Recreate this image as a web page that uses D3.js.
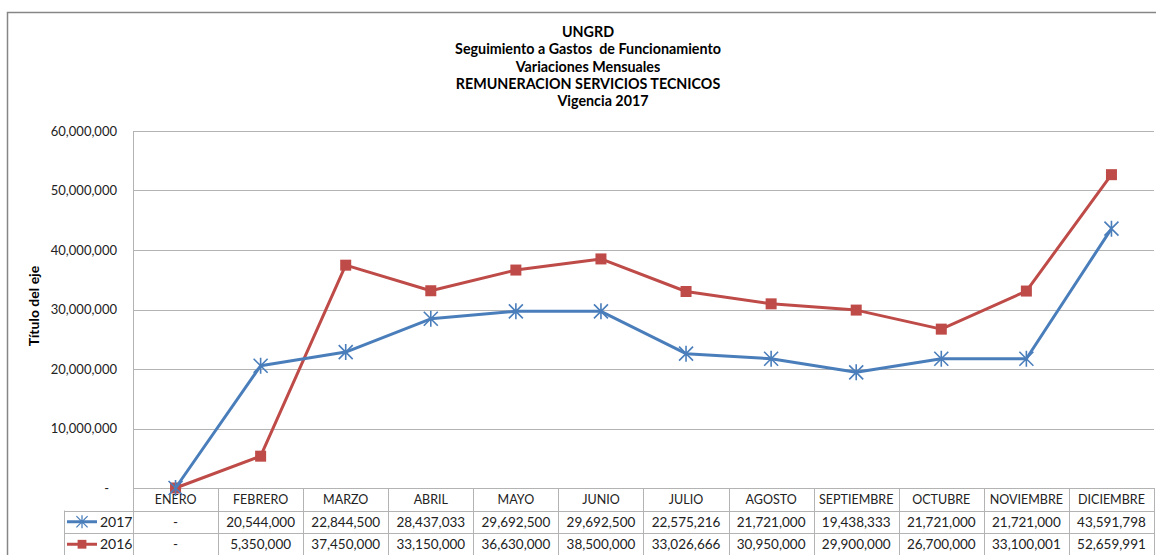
<!DOCTYPE html>
<html>
<head>
<meta charset="utf-8">
<script src="https://cdnjs.cloudflare.com/ajax/libs/d3/7.8.5/d3.min.js"></script>
<style>
  body { margin: 0; background: #fff; }
  svg { display: block; font-family: Lato, "Open Sans", sans-serif; }
</style>
</head>
<body>
<div id="chart"></div>
<script>
var months = ["ENERO", "FEBRERO", "MARZO", "ABRIL", "MAYO", "JUNIO", "JULIO", "AGOSTO", "SEPTIEMBRE", "OCTUBRE", "NOVIEMBRE", "DICIEMBRE"];
var values2017 = [0, 20544000, 22844500, 28437033, 29692500, 29692500, 22575216, 21721000, 19438333, 21721000, 21721000, 43591798];
var values2016 = [0, 5350000, 37450000, 33150000, 36630000, 38500000, 33026666, 30950000, 29900000, 26700000, 33100001, 52659991];
var yTicks = [0, 10000000, 20000000, 30000000, 40000000, 50000000, 60000000];
var titleLines = ["UNGRD", "Seguimiento a Gastos  de Funcionamiento", "Variaciones Mensuales", "REMUNERACION SERVICIOS TECNICOS", "Vigencia 2017"];

var series = [
  {name: "2017", values: values2017, color: "#4A7EBB", marker: "star"},
  {name: "2016", values: values2016, color: "#BE4B48", marker: "square"}
];

var W = 1156, H = 555;
var margin = {top: 131, right: 2, bottom: 67, left: 133};
var width = W - margin.left - margin.right,
    height = H - margin.top - margin.bottom;

var svg = d3.select("#chart").append("svg").attr("width", W).attr("height", H);

// outer chart border
svg.append("rect")
  .attr("x", 7.5).attr("y", 12.5)
  .attr("width", W).attr("height", H)
  .attr("fill", "none").attr("stroke", "#868686").attr("stroke-width", 1.5);

// title
svg.append("g").selectAll("text")
  .data(titleLines)
  .enter().append("text")
  .attr("x", function(d, i){ return i === 4 ? 603 : 588; })
  .attr("y", function(d, i){ return 37 + i * 17.3; })
  .attr("text-anchor", "middle")
  .attr("font-size", 14.3)
  .attr("font-weight", "bold")
  .attr("fill", "#000")
  .style("white-space", "pre")
  .text(function(d){ return d; });

var g = svg.append("g").attr("transform", "translate(" + margin.left + "," + margin.top + ")");

var x = d3.scaleBand().domain(months).range([0, width]);
var y = d3.scaleLinear().domain([0, 60000000]).range([height, 0]);
var fmt = d3.format(",.0f");
function label(v){ return v === 0 ? "-" : fmt(v); }

// gridlines
g.append("g").selectAll("line")
  .data(yTicks)
  .enter().append("line")
  .attr("x1", 0).attr("x2", width)
  .attr("y1", function(d){ return Math.round(y(d)) + 0.5; })
  .attr("y2", function(d){ return Math.round(y(d)) + 0.5; })
  .attr("stroke", "#b3b3b3").attr("stroke-width", 1);

// y axis
var yAxis = g.append("g")
  .call(d3.axisLeft(y).tickValues(yTicks).tickSize(0).tickPadding(16).tickFormat(label));
yAxis.select(".domain").remove();
yAxis.selectAll("text")
  .attr("font-size", 13).attr("fill", "#222").attr("font-family", "Lato, sans-serif")
  .attr("dx", function(d){ return d === 0 ? -8 : 0; });
g.append("line")
  .attr("x1", 0.5).attr("x2", 0.5).attr("y1", 0).attr("y2", height)
  .attr("stroke", "#b3b3b3");

svg.append("text")
  .attr("transform", "translate(39,306) rotate(-90)")
  .attr("text-anchor", "middle")
  .attr("font-size", 14)
  .attr("font-weight", "bold")
  .text("Título del eje");

// data table
var rowH = 22.5;
var table = g.append("g").attr("transform", "translate(0," + height + ")");
var tableLeft = 64 - margin.left;
var gridColor = "#b3b3b3";

// horizontal rules
[0, 1, 2, 3].forEach(function(r){
  table.append("line")
    .attr("x1", r === 0 ? 0 : tableLeft)
    .attr("x2", width)
    .attr("y1", Math.round(r * rowH) + 0.5).attr("y2", Math.round(r * rowH) + 0.5)
    .attr("stroke", gridColor);
});
// vertical rules
table.selectAll(".vrule")
  .data(months)
  .enter().append("line")
  .attr("class", "vrule")
  .attr("x1", function(d){ return Math.round(x(d) + x.bandwidth()) + 0.5; })
  .attr("x2", function(d){ return Math.round(x(d) + x.bandwidth()) + 0.5; })
  .attr("y1", 0).attr("y2", 3 * rowH)
  .attr("stroke", gridColor);
table.append("line")
  .attr("x1", 0.5).attr("x2", 0.5).attr("y1", 0).attr("y2", 3 * rowH).attr("stroke", gridColor);
table.append("line")
  .attr("x1", tableLeft + 0.5).attr("x2", tableLeft + 0.5).attr("y1", rowH).attr("y2", 3 * rowH).attr("stroke", gridColor);

// category header
table.selectAll(".cat")
  .data(months)
  .enter().append("text")
  .attr("x", function(d){ return x(d) + x.bandwidth() / 2; })
  .attr("y", rowH / 2 + 5)
  .attr("text-anchor", "middle")
  .attr("font-size", 12.5)
  .attr("fill", "#222")
  .text(function(d){ return d; });

function drawMarker(sel, type, color){
  if (type === "square") {
    sel.append("rect")
      .attr("x", -5.5).attr("y", -5.5).attr("width", 11).attr("height", 11)
      .attr("fill", color);
  } else {
    var r = 7;
    sel.append("path")
      .attr("d", "M" + (-r) + "," + (-r) + "L" + r + "," + r + "M" + (-r) + "," + r + "L" + r + "," + (-r) + "M0," + (-r - 1) + "L0," + (r + 1))
      .attr("stroke", color).attr("stroke-width", 1.6).attr("fill", "none");
  }
}

series.forEach(function(s, si){
  var ry = (si + 1) * rowH;
  var rowG = table.append("g").attr("transform", "translate(0," + ry + ")");
  // legend key
  rowG.append("line")
    .attr("x1", tableLeft + 3).attr("x2", tableLeft + 33)
    .attr("y1", rowH / 2).attr("y2", rowH / 2)
    .attr("stroke", s.color).attr("stroke-width", 3);
  drawMarker(rowG.append("g").attr("transform", "translate(" + (tableLeft + 18) + "," + (rowH / 2) + ") scale(0.8)"), s.marker, s.color);
  rowG.append("text")
    .attr("x", tableLeft + 36).attr("y", rowH / 2 + 5)
    .attr("font-size", 14).attr("fill", "#222")
    .text(s.name);
  rowG.selectAll(".val")
    .data(s.values)
    .enter().append("text")
    .attr("x", function(d, i){ return x(months[i]) + x.bandwidth() / 2; })
    .attr("y", rowH / 2 + 5)
    .attr("text-anchor", "middle")
    .attr("font-size", 13.5)
    .attr("fill", "#222")
    .text(label);
});

// lines
var line = d3.line()
  .x(function(d, i){ return x(months[i]) + x.bandwidth() / 2; })
  .y(function(d){ return y(d); });

series.slice().reverse().forEach(function(s){
  g.append("path")
    .datum(s.values)
    .attr("fill", "none")
    .attr("stroke", s.color)
    .attr("stroke-width", 3)
    .attr("stroke-linejoin", "round")
    .attr("d", line);
  g.selectAll(".m" + s.name)
    .data(s.values)
    .enter().append("g")
    .attr("transform", function(d, i){ return "translate(" + (x(months[i]) + x.bandwidth() / 2) + "," + y(d) + ")"; })
    .each(function(){ drawMarker(d3.select(this), s.marker, s.color); });
});
</script>
</body>
</html>
